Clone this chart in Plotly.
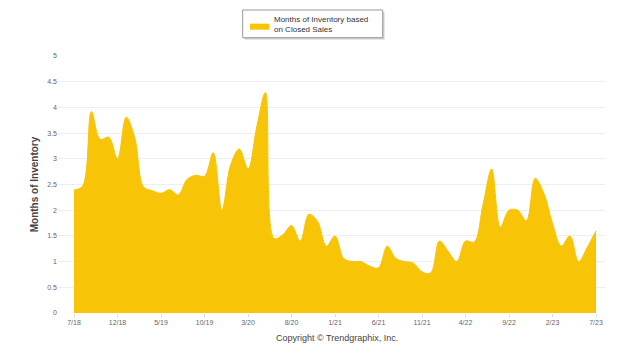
import plotly.graph_objects as go

# ---- data ----
months = []
for i in range(61):
    m = (7 + i - 1) % 12 + 1
    y = 18 + (7 + i - 1) // 12
    months.append(f"{m}/{y}")

inventory = [2.39, 2.47, 3.92, 3.38, 3.42, 3.00, 3.81, 3.40, 2.45, 2.38,
             2.33, 2.40, 2.30, 2.60, 2.68, 2.66, 3.12, 2.00, 2.88, 3.19,
             2.80, 3.62, 4.29, 1.45, 1.52, 1.70, 1.40, 1.92, 1.78, 1.30,
             1.50, 1.06, 1.00, 1.00, 0.91, 0.88, 1.30, 1.06, 1.00, 0.97,
             0.80, 0.78, 1.40, 1.20, 1.00, 1.40, 1.38, 2.10, 2.80, 1.67,
             2.00, 2.00, 1.80, 2.62, 2.33, 1.74, 1.30, 1.50, 1.00, 1.28,
             1.60]

tick_labels = months[::5]
y_ticks = [0, 0.5, 1, 1.5, 2, 2.5, 3, 3.5, 4, 4.5, 5]
series_name = "Months of Inventory based<br>on Closed Sales"

gold = "#F8C408"
font_family = "Liberation Sans, Arial, sans-serif"

fig = go.Figure()
fig.add_trace(go.Scatter(
    x=months, y=inventory, mode="lines", fill="tozeroy",
    line=dict(color=gold, width=1, shape="spline", smoothing=1.0),
    fillcolor=gold, name="Months of Inventory based on Closed Sales",
    showlegend=False, hoverinfo="x+y"))

# page offset from default body margin
OFF = 8
W, H = 625 - OFF, 358 - OFF
# plot area in page coordinates
PL, PR, PT, PB = 58, 605, 56, 313
L = PL - OFF
T = PT - OFF
R = (W + OFF) - PR
B = (H + OFF) - PB
pw = PR - PL
ph = PB - PT

def px(xp):
    return (xp - PL) / pw

def py(yp):
    return (PB - yp) / ph

fig.update_layout(
    width=W, height=H,
    margin=dict(l=L, r=R, t=T, b=B, pad=0),
    paper_bgcolor="white", plot_bgcolor="white",
    font=dict(family=font_family, color="#666666", size=7),
    xaxis=dict(type="category", range=[-1.84, 61.03],
               tickmode="array", tickvals=tick_labels, ticktext=tick_labels,
               showgrid=False, zeroline=False, showline=False,
               ticks="outside", ticklen=3, tickcolor="#dddddd",
               tickfont=dict(size=7, color="#666666")),
    yaxis=dict(range=[0, 5], tickmode="array", tickvals=y_ticks,
               ticktext=[f"{v:g}" for v in y_ticks],
               showgrid=True, gridcolor="#eeeeee", gridwidth=1,
               zeroline=False, showline=False,
               tickfont=dict(size=7, color="#666666"),
               title=dict(text="<b>Months of Inventory</b>", standoff=6,
                          font=dict(size=10, color="#444444"))),
    shapes=[
        # legend shadow
        dict(type="rect", xref="paper", yref="paper",
             x0=px(244.5), x1=px(384.5), y0=py(39.5), y1=py(12),
             line=dict(width=0), fillcolor="#d0d0d0", layer="above"),
        # legend box
        dict(type="rect", xref="paper", yref="paper",
             x0=px(242.7), x1=px(382.7), y0=py(37.7), y1=py(10),
             line=dict(color="#999999", width=1), fillcolor="white", layer="above"),
        # swatch
        dict(type="rect", xref="paper", yref="paper",
             x0=px(250), x1=px(269.3), y0=py(29.7), y1=py(23.7),
             line=dict(width=0), fillcolor=gold, layer="above"),
    ],
    annotations=[
        dict(text=series_name, xref="paper", yref="paper",
             x=px(271.5), y=py(24.7), xanchor="left", yanchor="middle",
             align="left", showarrow=False,
             font=dict(size=8, color="#333333", family=font_family)),
        dict(text="Copyright © Trendgraphix, Inc.", xref="paper", yref="paper",
             x=px(337), y=py(338), xanchor="center", yanchor="middle",
             showarrow=False, font=dict(size=9, color="#444444", family=font_family)),
    ],
)

fig.write_html("out.html")
